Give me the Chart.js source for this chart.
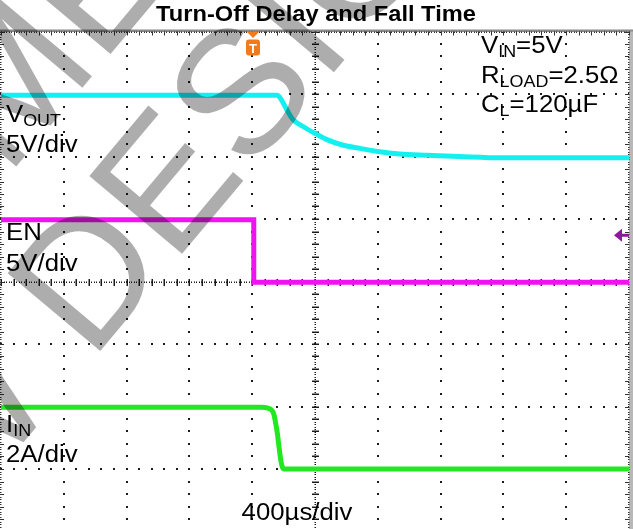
<!DOCTYPE html>
<html>
<head>
<meta charset="utf-8">
<script src="https://cdn.jsdelivr.net/npm/chart.js@4.4.0/dist/chart.umd.min.js"></script>
<style>
  html, body { margin: 0; padding: 0; background: #fff; }
  #wrap { width: 633px; height: 529px; }
</style>
</head>
<body>
<div id="wrap"><canvas id="scope"></canvas></div>
<script>
// time base: microseconds, 400us/div, trigger-centred screen of 10 divisions
const timeVout = [-2000, -240, -220, -180, -140, -76, 0, 76, 180, 288, 400, 540, 720, 920, 1200, 2000];
const vout = [4.9, 4.9, 4.65, 3.75, 2.95, 2.4, 1.85, 1.35, 0.9, 0.65, 0.4, 0.2, 0.1, 0, -0.1, -0.1];

const timeEn = [-2000, -390, -390, 2000];
const en = [4.95, 4.95, -0.05, -0.05];

const timeIin = [-2000, -340, -300, -275, -262, -250, -240, -229, -217, -207, -198, 2000];
const iin = [1.98, 1.98, 1.95, 1.88, 1.75, 1.45, 1.15, 0.7, 0.25, 0.05, 0, 0];

// channel settings (units per div, ground offset in divs)
const voutPerDiv = 5, voutOffset = 2;
const enPerDiv = 5, enOffset = 0;
const iinPerDiv = 2, iinOffset = -3;

const triggerTime = -395;   // us
const triggerLevel = 3.7;   // V on EN

const FONT = '"Liberation Sans", Arial, sans-serif';
const SX = 1.12; // the screenshot is stretched horizontally

const toPoints = (t, v, perDiv, offset) => t.map((x, i) => ({ x: x, y: offset + v[i] / perDiv }));

// draw a run of text pieces (for subscripts) with a horizontal stretch
function drawParts(ctx, parts, x, y, align, sx) {
  sx = sx || SX;
  let w = 0;
  parts.forEach(p => { ctx.font = (p.bold ? 'bold ' : '') + p.size + 'px ' + FONT; w += ctx.measureText(p.t).width; });
  ctx.save();
  ctx.translate(x, y);
  ctx.scale(sx, 1);
  let cx = align === 'center' ? -w / 2 : 0;
  parts.forEach(p => {
    ctx.font = (p.bold ? 'bold ' : '') + p.size + 'px ' + FONT;
    ctx.fillText(p.t, cx, p.dy || 0);
    cx += ctx.measureText(p.t).width;
  });
  ctx.restore();
}

const scopeGrid = {
  id: 'scopeGrid',
  beforeDatasetsDraw(chart) {
    const ctx = chart.ctx, xs = chart.scales.x, ys = chart.scales.y;
    const a = chart.chartArea;
    const top = ys.getPixelForValue(4), bottom = ys.getPixelForValue(-4);
    ctx.save();
    ctx.fillStyle = '#1a1a1a';
    // dotted major lines, a dot every 1/5 div
    for (let i = -4; i <= 4; i++) {
      if (i === 0) continue;
      const x = Math.round(xs.getPixelForValue(i * 400));
      for (let k = -20; k <= 20; k++) {
        const y = Math.round(ys.getPixelForValue(k / 5));
        ctx.fillRect(x - 1, y - 1, 2, 2);
      }
    }
    for (let j = -3; j <= 3; j++) {
      if (j === 0) continue;
      const y = Math.round(ys.getPixelForValue(j));
      for (let k = -25; k <= 25; k++) {
        const x = Math.round(xs.getPixelForValue(k * 80));
        ctx.fillRect(x - 1, y - 1, 2, 2);
      }
    }
    // centre cross: fine dots with a tick every 1/5 div
    const cx = Math.round(xs.getPixelForValue(0));
    const cy = Math.round(ys.getPixelForValue(0));
    for (let y = top; y <= bottom; y += 2.5) ctx.fillRect(cx - 0.5, Math.round(y), 1.5, 1);
    for (let x = a.left; x <= a.right; x += 2.5) ctx.fillRect(Math.round(x), cy - 0.5, 1, 1.5);
    for (let k = -20; k <= 20; k++) {
      const y = Math.round(ys.getPixelForValue(k / 5));
      ctx.fillRect(cx - 3, y - 0.5, 7, 1.5);
    }
    for (let k = -25; k <= 25; k++) {
      const x = Math.round(xs.getPixelForValue(k * 80));
      ctx.fillRect(x - 0.5, cy - 3, 1.5, 7);
    }
    // frame
    ctx.fillStyle = '#8a8a8a';
    ctx.fillRect(0, top - 2, chart.width, 2.5);
    ctx.fillStyle = '#b8b8b8';
    ctx.fillRect(a.right, top, chart.width - a.right, chart.height - top);
    ctx.fillStyle = '#333';
    for (let x = a.left; x <= a.right; x += 2.5) ctx.fillRect(Math.round(x), top, 1, 1.5);
    for (let y = top; y <= bottom; y += 2.5) {
      ctx.fillRect(0, Math.round(y), 1.5, 1);
      ctx.fillRect(a.right - 1, Math.round(y), 1.5, 1);
    }
    for (let k = -25; k <= 25; k++) {
      const x = Math.round(xs.getPixelForValue(k * 80));
      ctx.fillRect(x, top, 1, 4);
    }
    for (let k = -20; k <= 20; k++) {
      const y = Math.round(ys.getPixelForValue(k / 5));
      ctx.fillRect(0, y, 4, 1);
      ctx.fillRect(a.right - 4, y, 4, 1);
    }
    ctx.restore();
  }
};

const scopeText = {
  id: 'scopeText',
  afterDraw(chart) {
    const ctx = chart.ctx, xs = chart.scales.x, ys = chart.scales.y;
    ctx.save();
    ctx.fillStyle = '#000';
    ctx.textBaseline = 'alphabetic';
    drawParts(ctx, [{ t: 'Turn-Off Delay and Fall Time', size: 22, bold: true }], 316, 21, 'center', 1.075);

    drawParts(ctx, [{ t: 'V', size: 23 }, { t: 'OUT', size: 16, dy: 4 }], 6, 122, 'left');
    drawParts(ctx, [{ t: '5V/div', size: 23 }], 6, 152, 'left');
    drawParts(ctx, [{ t: 'EN', size: 23 }], 6, 240, 'left');
    drawParts(ctx, [{ t: '5V/div', size: 23 }], 6, 271, 'left');
    drawParts(ctx, [{ t: 'I', size: 23 }, { t: 'IN', size: 16, dy: 4 }], 6, 432, 'left');
    drawParts(ctx, [{ t: '2A/div', size: 23 }], 6, 462, 'left');

    drawParts(ctx, [{ t: 'V', size: 23 }, { t: 'IN', size: 16, dy: 4 }, { t: '=5V', size: 23 }], 481, 53, 'left');
    drawParts(ctx, [{ t: 'R', size: 23 }, { t: 'LOAD', size: 16, dy: 4 }, { t: '=2.5Ω', size: 23 }], 481, 83, 'left');
    drawParts(ctx, [{ t: 'C', size: 23 }, { t: 'L', size: 16, dy: 4 }, { t: '=120µF', size: 23 }], 481, 112, 'left');

    drawParts(ctx, [{ t: '400µs/div', size: 23 }], 297, 520, 'center');

    // trigger position marker
    const tx = xs.getPixelForValue(triggerTime);
    const top = ys.getPixelForValue(4);
    ctx.fillStyle = '#f07a1c';
    ctx.beginPath();
    ctx.moveTo(tx - 6.5, top);
    ctx.lineTo(tx + 6.5, top);
    ctx.lineTo(tx, top + 6.5);
    ctx.closePath();
    ctx.fill();
    ctx.beginPath();
    ctx.roundRect(tx - 7, top + 8, 14, 16, 3);
    ctx.fill();
    ctx.fillStyle = '#fff';
    ctx.font = 'bold 13px ' + FONT;
    ctx.textAlign = 'center';
    ctx.fillText('T', tx, top + 21);
    ctx.textAlign = 'left';

    // trigger level marker
    const ly = ys.getPixelForValue(enOffset + triggerLevel / enPerDiv);
    const rx = chart.chartArea.right;
    ctx.fillStyle = '#8e1896';
    ctx.beginPath();
    ctx.moveTo(rx - 15, ly);
    ctx.lineTo(rx - 7, ly - 6.5);
    ctx.lineTo(rx - 7, ly + 6.5);
    ctx.closePath();
    ctx.fill();
    ctx.fillRect(rx - 8, ly - 1.5, 8, 3);

    // watermark
    ctx.translate(91, 362);
    ctx.rotate(-50 * Math.PI / 180);
    ctx.font = '176px ' + FONT;
    ctx.fillStyle = 'rgba(0,0,0,0.32)';
    ctx.fillText('FOR NEW DESIGNS', -ctx.measureText('FOR NEW ').width, 0);
    ctx.fillText('NOT RECOMMENDED', 234 - ctx.measureText('NOT RECOMM').width, -183);
    ctx.restore();
  }
};

const chart = new Chart(document.getElementById('scope'), {
  type: 'scatter',
  data: {
    datasets: [
      {
        label: 'EN',
        data: toPoints(timeEn, en, enPerDiv, enOffset),
        borderColor: '#f012f0',
        borderWidth: 5,
        showLine: true,
        pointRadius: 0
      },
      {
        label: 'VOUT',
        data: toPoints(timeVout, vout, voutPerDiv, voutOffset),
        borderColor: '#14f0f0',
        borderWidth: 5,
        showLine: true,
        pointRadius: 0,
        cubicInterpolationMode: 'monotone'
      },
      {
        label: 'IIN',
        data: toPoints(timeIin, iin, iinPerDiv, iinOffset),
        borderColor: '#22e822',
        borderWidth: 5,
        showLine: true,
        pointRadius: 0,
        cubicInterpolationMode: 'monotone'
      }
    ]
  },
  options: {
    responsive: true,
    maintainAspectRatio: false,
    animation: false,
    layout: { padding: { left: 1, right: 4, top: 31.5, bottom: 0 } },
    plugins: { legend: { display: false }, tooltip: { enabled: false }, title: { display: false } },
    scales: {
      x: { type: 'linear', min: -2000, max: 2000, display: false },
      y: { type: 'linear', min: -3.96, max: 4, display: false }
    }
  },
  plugins: [scopeGrid, scopeText]
});
</script>
</body>
</html>
